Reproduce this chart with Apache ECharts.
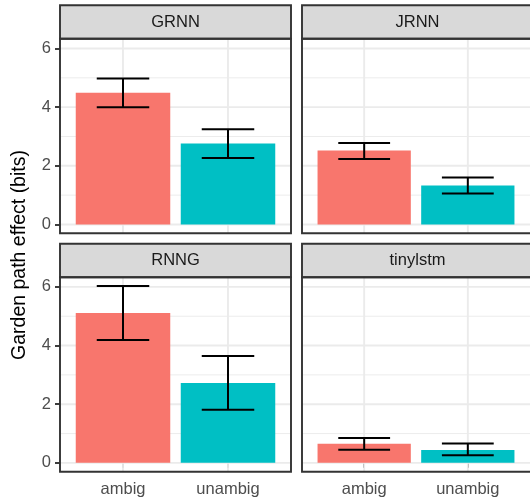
<!DOCTYPE html>
<html><head><meta charset="utf-8">
<script src="https://cdn.jsdelivr.net/npm/echarts@6/dist/echarts.min.js"></script>
<style>html,body{margin:0;padding:0;background:#fff}#c{width:530px;height:499px}</style>
</head><body><div id="c"></div><script>
// ---- data ----
const models = ['GRNN', 'JRNN', 'RNNG', 'tinylstm'];
const conditions = ['ambig', 'unambig'];
const meanAmbig   = [4.49, 2.52, 5.11, 0.65];
const meanUnambig = [2.76, 1.33, 2.72, 0.44];
const lowAmbig    = [4.00, 2.23, 4.19, 0.45];
const highAmbig   = [4.98, 2.78, 6.03, 0.85];
const lowUnambig  = [2.27, 1.06, 1.81, 0.26];
const highUnambig = [3.25, 1.60, 3.64, 0.66];
const yTicks = [0, 2, 4, 6];
const yMinor = [1, 3, 5];
const yTitle = 'Garden path effect (bits)';

// ---- style / layout ----
const colors = ['#F8766D', '#00BFC4'];
const FONT = '"Liberation Sans", Arial, Helvetica, sans-serif';
const colLeft = [60, 302];
const rowTop = [5.3, 243.7];
const stripH = 33.5, panelW = 231, panelH = 194.5;
const yMin = -0.3015, yMax = 6.3315;
const SMALL = 16.5;

const grids = [], xAxes = [], yAxes = [], series = [], graphics = [];
models.forEach((m, i) => {
  const col = i % 2, row = Math.floor(i / 2);
  const left = colLeft[col], top = rowTop[row] + stripH;
  grids.push({left: left, top: top, width: panelW, height: panelH});
  const isBottom = row === 1, isLeft = col === 0;
  xAxes.push({
    gridIndex: i, type: 'value', min: 0.4, max: 2.6,
    axisLine: {show: false}, splitLine: {show: false},
    axisTick: {show: isBottom, customValues: [1, 2], length: 5, lineStyle: {color: '#333333', width: 1.9}},
    axisLabel: {show: isBottom, customValues: [1, 2], margin: 9, color: '#4D4D4D', fontSize: SMALL, fontFamily: FONT,
      formatter: v => conditions[Math.round(v) - 1] || ''}
  });
  yAxes.push({
    gridIndex: i, type: 'value', min: yMin, max: yMax,
    axisLine: {show: false}, splitLine: {show: false},
    axisTick: {show: isLeft, customValues: yTicks, length: 5, lineStyle: {color: '#333333', width: 1.9}},
    axisLabel: {show: isLeft, customValues: yTicks, margin: 9, color: '#4D4D4D', fontSize: SMALL, fontFamily: FONT}
  });
  // gridlines
  const gl = [];
  yMinor.forEach(v => gl.push([0, v, 0]));
  yTicks.forEach(v => gl.push([0, v, 1]));
  [1, 2].forEach(v => gl.push([1, v, 1]));
  series.push({
    type: 'custom', xAxisIndex: i, yAxisIndex: i, z: 1, silent: true, clip: true,
    data: gl, encode: {x: -1, y: -1},
    renderItem: (p, api) => {
      const kind = api.value(0), v = api.value(1), major = api.value(2);
      let a, b;
      if (kind === 0) { a = api.coord([0.4, v]); b = api.coord([2.6, v]); }
      else { a = api.coord([v, yMin]); b = api.coord([v, yMax]); }
      return {type: 'line', shape: {x1: a[0], y1: a[1], x2: b[0], y2: b[1]},
        style: {stroke: '#EBEBEB', lineWidth: major ? 1.9 : 0.95}};
    }
  });
  // bars
  series.push({
    type: 'custom', xAxisIndex: i, yAxisIndex: i, z: 2, silent: true,
    data: [[1, meanAmbig[i], 0], [2, meanUnambig[i], 1]],
    renderItem: (p, api) => {
      const x = api.value(0), v = api.value(1);
      const p0 = api.coord([x - 0.45, 0]), p1 = api.coord([x + 0.45, v]);
      return {type: 'rect', shape: {x: p0[0], y: p1[1], width: p1[0] - p0[0], height: p0[1] - p1[1]},
        style: {fill: colors[api.value(2)]}};
    }
  });
  // error bars
  series.push({
    type: 'custom', xAxisIndex: i, yAxisIndex: i, z: 3, silent: true,
    data: [[1, lowAmbig[i], highAmbig[i]], [2, lowUnambig[i], highUnambig[i]]],
    renderItem: (p, api) => {
      const x = api.value(0), lo = api.value(1), hi = api.value(2);
      const tl = api.coord([x - 0.25, hi]), tr = api.coord([x + 0.25, hi]);
      const bl = api.coord([x - 0.25, lo]), br = api.coord([x + 0.25, lo]);
      const mt = api.coord([x, hi]), mb = api.coord([x, lo]);
      const st = {stroke: '#000000', lineWidth: 2};
      return {type: 'group', children: [
        {type: 'line', shape: {x1: tl[0], y1: tl[1], x2: tr[0], y2: tr[1]}, style: st},
        {type: 'line', shape: {x1: bl[0], y1: bl[1], x2: br[0], y2: br[1]}, style: st},
        {type: 'line', shape: {x1: mt[0], y1: mt[1], x2: mb[0], y2: mb[1]}, style: st}
      ]};
    }
  });
  // strip
  graphics.push({type: 'rect', z: 100, shape: {x: left, y: rowTop[row], width: panelW, height: stripH},
    style: {fill: '#D9D9D9', stroke: '#333333', lineWidth: 1.9}});
  graphics.push({type: 'text', z: 101, x: left + panelW / 2, y: rowTop[row] + stripH / 2,
    style: {text: m, fill: '#1A1A1A', font: SMALL + 'px ' + FONT, align: 'center', verticalAlign: 'middle'}});
  // panel border
  graphics.push({type: 'rect', z: 100, shape: {x: left, y: top, width: panelW, height: panelH},
    style: {fill: 'none', stroke: '#333333', lineWidth: 1.9}});
});
graphics.push({type: 'text', z: 101, x: 20, y: 255, rotation: Math.PI / 2,
  style: {text: yTitle, fill: '#000000', font: '19.5px ' + FONT, align: 'center', verticalAlign: 'middle'}});

const chart = echarts.init(document.getElementById('c'), null, {renderer: 'canvas'});
chart.setOption({
  animation: false,
  backgroundColor: '#FFFFFF',
  grid: grids, xAxis: xAxes, yAxis: yAxes, series: series, graphic: graphics
});
</script></body></html>
